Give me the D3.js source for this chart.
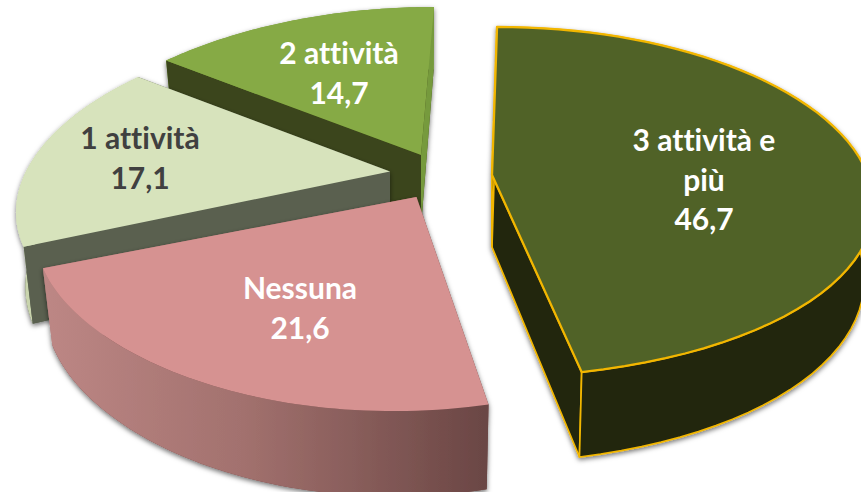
<!DOCTYPE html>
<html>
<head>
<meta charset="utf-8">
<script src="https://cdn.jsdelivr.net/npm/d3@7"></script>
<style>
  html, body { margin: 0; padding: 0; background: #fff; }
  svg { display: block; }
  text { font-family: Lato, "Open Sans", sans-serif; font-weight: 700; font-size: 30px; text-anchor: middle; font-variant-ligatures: none; }
</style>
</head>
<body>
<div class="chart"></div>
<script>
// data
var categories = ["3 attività e\npiù", "Nessuna", "1 attività", "2 attività"];
var values = [46.7, 21.6, 17.1, 14.7];

// layout of the tilted pie
var width = 861, height = 492;
var center = { x: 410, y: 175 };
var depth = 72;
var perspX = 0.19, perspDepth = 0.155, taper = 0.025;

// one entry per slice: how far it is pulled out, and how it looks
var explode = [[82, 0], [6.5, 22], [-20, -3.5], [11, -20]];
var sizeX = [376, 370, 364, 368];
var sizeY = [171, 152, 171, 171];
var perspY = [0.155, 0.29, 0.155, 0.155];
var shear = [-0.034, -0.11, -0.088, -0.088];
var topColor = ["#506227", "#d69291", "#d7e3bc", "#86aa45"];
var startWall = ["#20260f", "#6a4644", "#5a6150", "#3a441a"];
var endWall = ["#20260f", "#a87573", "#5a6150", "#769a3c"];
var outerWall = ["#20260f", "url(#pinkSide)", "#c9d4ad", "#769a3c"];
var outerInFront = [true, true, false, false];
var edgeColor = ["#f2b600", null, null, null];
var textColor = ["#fff", "#fff", "#404040", "#fff"];
var labelCenter = [[704, 141], [300, 289], [140, 139], [339, 54]];
var drawOrder = [3, 2, 1, 0];

var svg = d3.select(".chart").append("svg")
    .attr("width", width)
    .attr("height", height);

var defs = svg.append("defs");

var pinkSide = defs.append("linearGradient")
    .attr("id", "pinkSide")
    .attr("gradientUnits", "userSpaceOnUse")
    .attr("x1", 43).attr("x2", 488).attr("y1", 0).attr("y2", 0);
pinkSide.append("stop").attr("offset", "0").attr("stop-color", "#bd8785");
pinkSide.append("stop").attr("offset", "0.45").attr("stop-color", "#a2716e");
pinkSide.append("stop").attr("offset", "1").attr("stop-color", "#6a4644");

defs.append("filter")
    .attr("id", "shadow")
    .attr("x", "-10%").attr("y", "-10%").attr("width", "120%").attr("height", "120%")
    .append("feDropShadow")
    .attr("dx", 0).attr("dy", 2)
    .attr("stdDeviation", 2.5)
    .attr("flood-color", "#000")
    .attr("flood-opacity", 0.55);

var pie = d3.pie().sort(null).value(function (d) { return d; });
var arcs = pie(values);

// pie plane to screen; level 0 is the top face, level 1 the bottom face
function project(i, angle, r, level) {
    var u = r * Math.sin(angle), v = -r * Math.cos(angle);
    var flatY = sizeY[i] * v / (1 - perspY[i] * v);
    var flatX = sizeX[i] * u / (1 - perspX * v) + shear[i] * flatY;
    return [
        center.x + explode[i][0] + flatX * (1 - level * taper),
        center.y + explode[i][1] + flatY + level * depth / (1 - perspDepth * v)
    ];
}

function arcPoints(i, level) {
    var a = arcs[i], n = 60;
    return d3.range(n + 1).map(function (k) {
        return project(i, a.startAngle + (a.endAngle - a.startAngle) * k / n, 1, level);
    });
}

var line = d3.line();

function topPath(i) {
    return line([project(i, 0, 0, 0)].concat(arcPoints(i, 0))) + "Z";
}
function bottomPath(i) {
    return line([project(i, 0, 0, 1)].concat(arcPoints(i, 1))) + "Z";
}
function outerPath(i) {
    return line(arcPoints(i, 0).concat(arcPoints(i, 1).reverse())) + "Z";
}
function radialPath(i, angle) {
    return line([
        project(i, angle, 0, 0), project(i, angle, 1, 0),
        project(i, angle, 1, 1), project(i, angle, 0, 1)
    ]) + "Z";
}

var slices = svg.selectAll("g.slice")
    .data(drawOrder)
    .enter().append("g")
    .attr("class", "slice");

slices.each(function (i) {
    var g = d3.select(this);
    var stroke = edgeColor[i] || "none";
    var walls = g.append("g").attr("filter", "url(#shadow)");

    function addOuter() {
        walls.append("path")
            .attr("d", outerPath(i))
            .attr("fill", outerWall[i])
            .attr("stroke", stroke).attr("stroke-width", 1.7);
    }

    walls.append("path")
        .attr("d", bottomPath(i))
        .attr("fill", startWall[i]);
    if (!outerInFront[i]) addOuter();
    walls.append("path")
        .attr("d", radialPath(i, arcs[i].endAngle))
        .attr("fill", endWall[i])
        .attr("stroke", stroke).attr("stroke-width", 1.7);
    walls.append("path")
        .attr("d", radialPath(i, arcs[i].startAngle))
        .attr("fill", startWall[i])
        .attr("stroke", stroke).attr("stroke-width", 1.7);
    if (outerInFront[i]) addOuter();

    g.append("path")
        .attr("d", topPath(i))
        .attr("fill", topColor[i])
        .attr("stroke", stroke).attr("stroke-width", 2.3)
        .attr("stroke-linejoin", "round");
});

// labels: category lines then the value, with a decimal comma
var labels = svg.selectAll("text.label")
    .data(categories)
    .enter().append("text")
    .attr("class", "label")
    .attr("fill", function (d, i) { return textColor[i]; });

labels.each(function (d, i) {
    var lines = d.split("\n").concat(values[i].toFixed(1).replace(".", ","));
    d3.select(this).selectAll("tspan")
        .data(lines)
        .enter().append("tspan")
        .attr("x", labelCenter[i][0])
        .attr("y", function (t, k) { return labelCenter[i][1] + 10 + k * 39.5; })
        .text(function (t) { return t; });
});
</script>
</body>
</html>
